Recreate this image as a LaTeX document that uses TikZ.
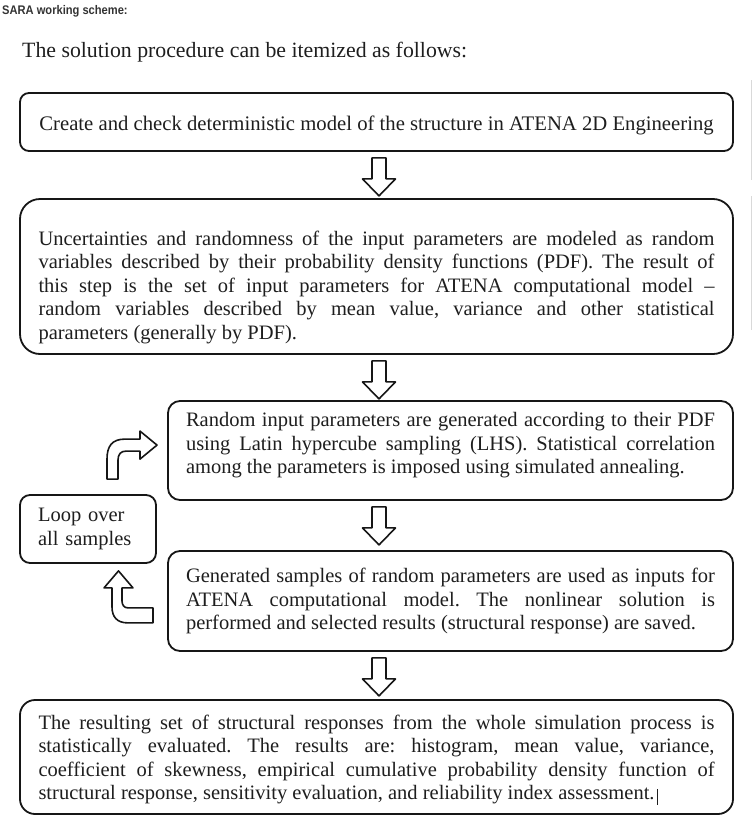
\documentclass[tikz,border=0pt]{standalone}
\usepackage{fontspec}
\setmainfont{Liberation Serif}
\newfontfamily\headfont[FakeStretch=0.89]{Liberation Sans}
\usetikzlibrary{calc,positioning}
\definecolor{framecol}{HTML}{161616}
\definecolor{textcol}{HTML}{1E1E1E}
\definecolor{headcol}{HTML}{333333}
\hyphenpenalty=10000
\tolerance=10000
\emergencystretch=20pt
\frenchspacing

% hollow block arrow pointing down, hung below a box, on the axis of the top box
\newcommand{\hollowdown}[1]{%
	\draw[hollow] ($(#1.south -| model.south)+(-4.5,6)$) -- ++(14,0) -- ++(0,21) -- ++(9.5,0)
		-- ++(-16.5,17) -- ++(-16.5,-17) -- ++(9.5,0) -- cycle;}
% invisible struts that move the text down (top) or up (bottom) in its box
\newcommand{\padtop}[1]{\rule{0pt}{#1}}
\newcommand{\padbot}[1]{\rule[-#1]{0pt}{#1}}

\begin{document}
\begin{tikzpicture}[x=1pt,y=-1pt,line join=round]
		\tikzstyle{every node}=[text=textcol,font=\fontsize{20.5}{23.6}\selectfont]
		\tikzstyle{stepbox}=[draw=framecol,line width=1.8pt,inner xsep=18.5pt,inner ysep=0pt]
		\tikzstyle{hollow}=[draw=framecol,line width=1.6pt,fill=white]
		\useasboundingbox (0,0) rectangle (752,822);
		\node[anchor=base west,inner sep=0pt,text=headcol,font=\headfont\bfseries\fontsize{12.5}{14}\selectfont] (head) at (2,14) {SARA working scheme:};
		\node[anchor=base west,inner sep=0pt,font=\fontsize{21.8}{25}\selectfont] (intro) at (22,57) {The solution procedure can be itemized as follows:};
		\node[stepbox,rounded corners=9pt,minimum width=713pt,minimum height=58pt,font=\fontsize{20.7}{23.6}\selectfont] (model) at (376.5,122)
			{\padtop{22pt}Create and check deterministic model of the structure in ATENA 2D Engineering};
		\node[stepbox,rounded corners=20pt,text width=676pt,align=justify,minimum height=155pt] (input) at (376.5,276.5)
			{\padtop{36pt}Uncertainties and randomness of the input parameters are modeled as random\linebreak
			variables described by their probability density functions (PDF). The result of\linebreak
			this step is the set of input parameters for ATENA computational model –\linebreak
			random variables described by mean value, variance and other statistical\linebreak
			parameters (generally by PDF).};
		\node[stepbox,rounded corners=12pt,inner xsep=18pt,text width=529pt,align=justify,minimum height=99pt] (lhs) at (450.5,450.5)
			{Random input parameters are generated according to their PDF\linebreak
			using Latin hypercube sampling (LHS). Statistical correlation\linebreak
			among the parameters is imposed using simulated annealing.\padbot{14.5pt}};
		\node[stepbox,rounded corners=12pt,inner xsep=18pt,text width=529pt,align=justify,minimum height=100pt] (solve) at (450.5,601)
			{Generated samples of random parameters are used as inputs for\linebreak
			ATENA computational model. The nonlinear solution is\linebreak
			performed and selected results (structural response) are saved.};
		\node[stepbox,rounded corners=15pt,text width=676pt,align=justify,minimum height=114pt] (stats) at (376.5,757)
			{\padtop{20pt}The resulting set of structural responses from the whole simulation process is\linebreak
			statistically evaluated. The results are: histogram, mean value, variance,\linebreak
			coefficient of skewness, empirical cumulative probability density function of\linebreak
			structural response, sensitivity evaluation, and reliability index assessment.\kern2pt\rule[-5pt]{0.9pt}{16pt}};
		\node[stepbox,rounded corners=10pt,inner xsep=18pt,text width=100pt,align=left,minimum height=68pt] (loop) at (88,529)
			{Loop over\\all samples};
		% arrows between the steps
		\hollowdown{model}
		\hollowdown{input}
		\hollowdown{lhs}
		\hollowdown{solve}
		% bent arrows of the loop
		\draw[hollow,shift={(loop.north)}] (19,-15) -- (19,-35) .. controls (19,-48) and (24,-55) .. (37,-55)
			-- (52,-55) -- (52,-63) -- (69,-49) -- (52,-35) -- (52,-43) -- (38,-43)
			.. controls (33,-43) and (30,-40) .. (30,-34) -- (30,-15) -- cycle;
		\draw[hollow,shift={(loop.south)}] (30.5,7) -- (45,24) -- (34,24) -- (34,37) .. controls (34,41) and (36,44) .. (40,44)
			-- (65,44) -- (65,59) -- (40,59) .. controls (29,59) and (24,53) .. (24,43)
			-- (24,24) -- (16,24) -- cycle;
		% page edge marks
		\draw[gray!30,line width=1pt] (751,80) -- (751,180) (751,196) -- (751,330);
\end{tikzpicture}
\end{document}
